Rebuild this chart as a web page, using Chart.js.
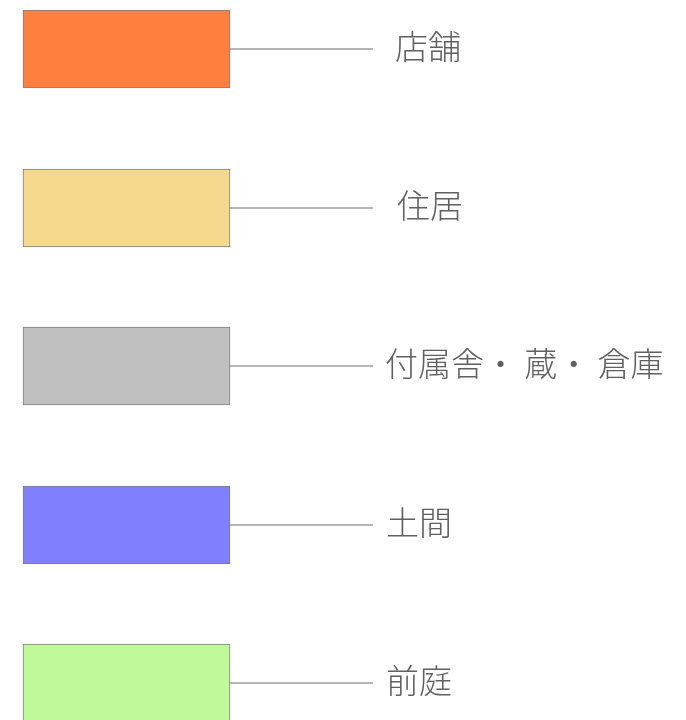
<!DOCTYPE html>
<html>
<head>
<meta charset="utf-8">
<script src="https://cdn.jsdelivr.net/npm/chart.js@4"></script>
<style>
  html, body { margin: 0; padding: 0; background: #ffffff; }
  #legendChart { display: block; }
</style>
</head>
<body>
<canvas id="legendChart" width="686" height="720"></canvas>
<script>
// 凡例の項目
const categories = ['店舗', '住居', '付属舎・ 蔵・ 倉庫', '土間', '前庭'];
const colors = ['#ff7f3f', '#f5d98f', '#c0c0c0', '#8080ff', '#c0fa98'];

// 各行の中心 (px単位の座標系)
const rowCenter = [49, 208, 366, 525, 683];
const boxFrom = 23;
const boxTo = 230;
const lineTo = 373;

// ラベルの書き出し位置
const labelX = [395, 397, 385, 386, 386];

const boxData = categories.map((c, i) => ({ x: [boxFrom, boxTo], y: rowCenter[i] }));

const lineSets = categories.map((c, i) => ({
    type: 'line',
    label: c + '_line',
    data: [{ x: boxTo, y: rowCenter[i] }, { x: lineTo, y: rowCenter[i] }],
    borderColor: '#6e6e6e',
    borderWidth: 1.2,
    pointRadius: 0,
    tension: 0
}));

const labelPlugin = {
    id: 'rowLabels',
    afterDatasetsDraw(chart) {
        const { ctx, scales } = chart;
        ctx.save();
        ctx.font = '300 33px "Noto Sans CJK JP"';
        ctx.fillStyle = '#606060';
        ctx.textAlign = 'left';
        ctx.textBaseline = 'middle';
        categories.forEach((c, i) => {
            const px = scales.x.getPixelForValue(labelX[i]);
            const py = scales.y.getPixelForValue(rowCenter[i]) - 3;
            ctx.fillText(c, px, py);
        });
        ctx.restore();
    }
};

new Chart(document.getElementById('legendChart'), {
    type: 'bar',
    data: {
        datasets: [
            {
                label: 'boxes',
                indexAxis: 'y',
                data: boxData,
                backgroundColor: colors,
                borderColor: '#7f7f7f',
                borderWidth: 1,
                borderSkipped: false,
                barThickness: 78
            },
            ...lineSets
        ]
    },
    options: {
        responsive: false,
        animation: false,
        devicePixelRatio: 1,
        layout: { padding: 0 },
        plugins: {
            legend: { display: false },
            tooltip: { enabled: false }
        },
        scales: {
            x: { type: 'linear', min: 0, max: 686, offset: false, display: false, grid: { offset: false } },
            y: { type: 'linear', min: 0, max: 720, reverse: true, offset: false, display: false, grid: { offset: false } }
        }
    },
    plugins: [labelPlugin]
});
</script>
</body>
</html>
